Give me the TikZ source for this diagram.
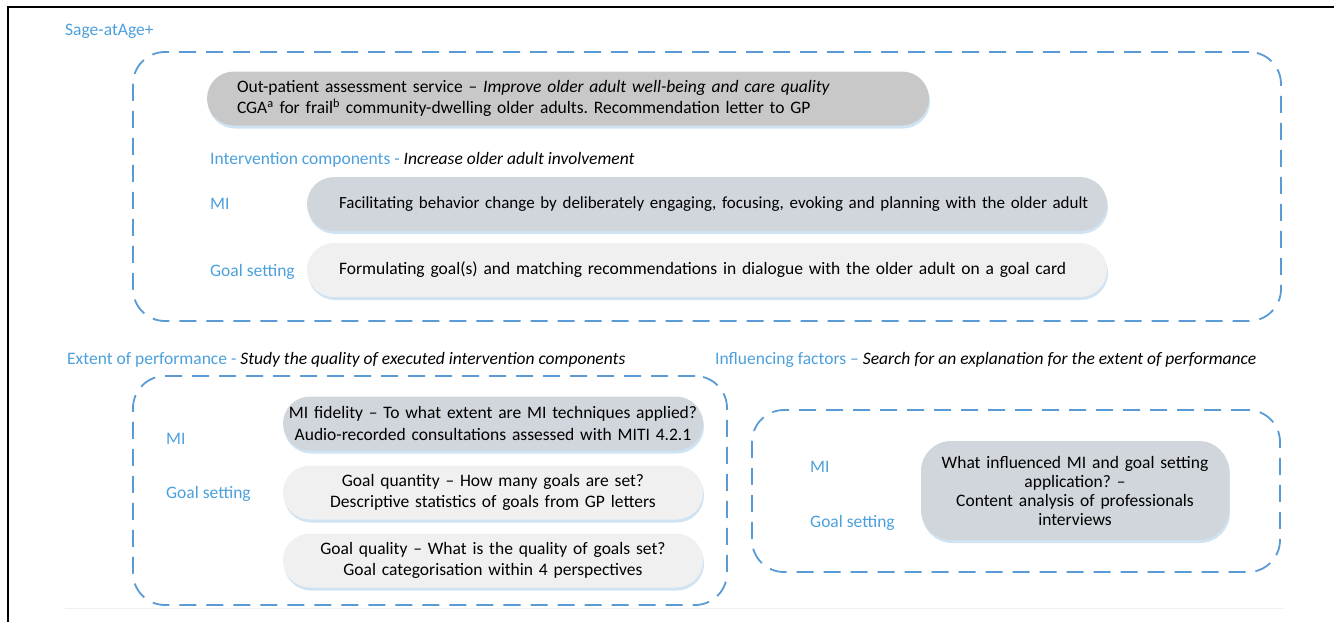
\documentclass[tikz,border=0pt]{standalone}
\usepackage{fontspec}
\setmainfont{Carlito}
\usetikzlibrary{shadows}
\definecolor{labelblue}{RGB}{75,160,220}
\definecolor{dashblue}{RGB}{91,155,213}
\definecolor{pillgray}{RGB}{200,200,200}
\definecolor{pillblue}{RGB}{209,214,220}
\definecolor{pilllight}{RGB}{240,240,240}
\definecolor{glow}{RGB}{195,220,240}
\frenchspacing

\begin{document}
\begin{tikzpicture}[x=1pt, y=-1pt, font=\fontsize{17.5}{21.5}\selectfont]
  \tikzset{
    dashbox/.style={draw=dashblue, line width=1.8pt, dash pattern=on 17pt off 10pt,
      rounded corners=32pt, inner sep=0pt},
    pill/.style={rounded corners=27pt, minimum height=54pt, inner ysep=0pt,
      drop shadow={shadow xshift=1pt, shadow yshift=-3pt, fill=glow, opacity=0.8}},
    tag/.style={text=labelblue, anchor=base west, inner sep=0pt},
    head/.style={anchor=base west, inner sep=0pt},
  }
  \useasboundingbox (0,0) rectangle (1334,622);
  \draw[line width=1.5pt] (8,622) -- (8,7) -- (1334,7);
  \draw[black!6] (65,608) -- (1283,608);

  \node[tag] (sagetitle) at (65,35) {Sage-atAge+};
  \node[dashbox, minimum width=1148pt, minimum height=269pt] (sagebox) at (707,186.5) {};
  \node[pill, fill=pillgray, text width=662pt, inner xsep=30pt, align=left] (outpatient) at (568,98.5)
    {Out-patient assessment service -- \textit{Improve older adult well-being and care quality}\\
     CGA\textsuperscript{a} for frail\textsuperscript{b} community-dwelling older adults. Recommendation letter to GP};
  \node[head] (intcomp) at (210,164)
    {\textcolor{labelblue}{Intervention components - }\textit{Increase older adult involvement}};
  \node[tag] (milabel) at (210,209) {MI};
  \node[pill, fill=pillblue, text width=736pt, inner xsep=32pt, align=left,
    font=\fontsize{17}{21}\selectfont] (mipill) at (707,204)
    {\mbox{Facilitating behavior change by deliberately engaging, focusing, evoking and planning with the older adult}};
  \node[tag] (gslabel) at (210,276) {Goal setting};
  \node[pill, fill=pilllight, text width=736pt, inner xsep=32pt, align=left] (gspill) at (707,270)
    {Formulating goal(s) and matching recommendations in dialogue with the older adult on a goal card};

  \node[head] (perftitle) at (67,364)
    {\textcolor{labelblue}{Extent of performance - }\textit{Study the quality of executed intervention components}};
  \node[dashbox, minimum width=594pt, minimum height=229pt] (perfbox) at (430,490.5) {};
  \node[tag] (perfmi) at (166,444) {MI};
  \node[tag] (perfgs) at (166,498) {Goal setting};
  \node[pill, fill=pillblue, text width=412pt, inner xsep=4pt, align=center] (fidelity) at (493,423.5)
    {MI fidelity -- To what extent are MI techniques applied?\\
     Audio-recorded consultations assessed with MITI 4.2.1};
  \node[pill, fill=pilllight, text width=412pt, inner xsep=4pt, align=center] (quantity) at (493,492.5)
    {Goal quantity -- How many goals are set?\\
     Descriptive statistics of goals from GP letters};
  \node[pill, fill=pilllight, text width=412pt, inner xsep=4pt, align=center] (quality) at (493,560.5)
    {Goal quality -- What is the quality of goals set?\\
     Goal categorisation within 4 perspectives};

  \node[head] (inftitle) at (715,364)
    {\textcolor{labelblue}{Influencing factors -- }\textit{Search for an explanation for the extent of performance}};
  \node[dashbox, minimum width=528pt, minimum height=162pt] (infbox) at (1016,491) {};
  \node[tag] (infmi) at (810,472) {MI};
  \node[tag] (infgs) at (810,527) {Goal setting};
  \node[pill, fill=pillblue, rounded corners=30pt, minimum height=99pt, text width=288pt,
    inner xsep=10pt, align=center, font=\fontsize{17.5}{19}\selectfont] (influence) at (1075,490.5)
    {What influenced MI and goal setting\\ application? --\\
     Content analysis of professionals\\ interviews};
\end{tikzpicture}
\end{document}
